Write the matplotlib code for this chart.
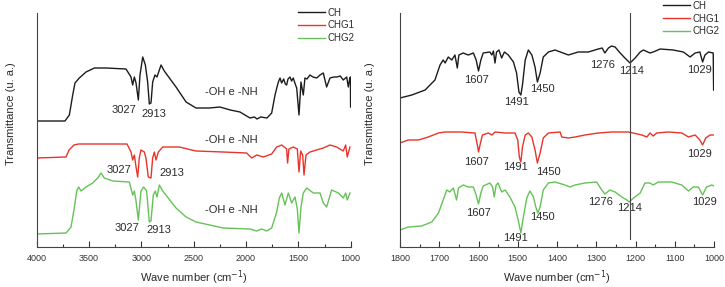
import matplotlib
matplotlib.use("Agg")
import matplotlib.pyplot as plt

plt.rcParams['font.family'] = ['Liberation Sans', 'DejaVu Sans']

# ---- data (wave number, transmittance in arbitrary units) ----
# full range 4000-1000
ch_full_wn = [4000, 3730, 3688, 3656, 3634, 3593, 3529, 3449, 3338, 3147, 3099, 3083, 3067, 3051,
              3029, 3013, 2987, 2962, 2940, 2924, 2908, 2892, 2870, 2851, 2812, 2781, 2669, 2573,
              2478, 2350, 2250, 2150, 2058, 1962, 1920, 1895, 1860, 1800, 1755, 1723, 1704, 1691,
              1675, 1660, 1640, 1625, 1612, 1599, 1580, 1565, 1549, 1530, 1516, 1494, 1475, 1453,
              1437, 1418, 1389, 1360, 1325, 1293, 1262, 1230, 1198, 1160, 1134, 1100, 1071, 1038,
              1023, 1010, 1003, 1001]
ch_full_t = [126, 126, 132, 152, 164, 169, 175, 179, 179, 178, 170, 162, 170, 164,
             147, 172, 190, 182, 165, 143, 144, 165, 172, 170, 182, 176, 160, 145,
             139, 139, 140, 137, 135, 129, 130, 128, 130, 129, 134, 152, 160, 165,
             169, 164, 168, 163, 162, 168, 170, 166, 169, 163, 159, 132, 165, 152,
             169, 168, 172, 170, 169, 172, 174, 160, 169, 170, 170, 171, 167, 170,
             160, 168, 170, 140]

chg1_full_wn = [4000, 3720, 3691, 3644, 3600, 3137, 3099, 3083, 3067, 3051, 3035, 3020, 3004, 2972,
                2956, 2934, 2908, 2892, 2876, 2860, 2838, 2796, 2638, 2478, 2220, 1994, 1946,
                1898, 1835, 1755, 1707, 1659, 1612, 1603, 1590, 1549, 1510, 1494, 1478, 1459,
                1446, 1427, 1389, 1262, 1198, 1134, 1071, 1048, 1033, 1007]
chg1_full_t = [89, 90, 97, 102, 103, 103, 95, 87, 92, 80, 70, 89, 97, 95,
               89, 70, 69, 89, 95, 87, 95, 100, 100, 96, 95, 94, 89,
               92, 90, 93, 100, 102, 98, 84, 98, 100, 98, 75, 96, 92,
               72, 92, 95, 99, 102, 100, 96, 102, 90, 100]

chg2_full_wn = [4000, 3720, 3672, 3641, 3618, 3599, 3577, 3529, 3465, 3417, 3386, 3354, 3274, 3115,
                3083, 3067, 3051, 3029, 3004, 2978, 2950, 2924, 2908, 2886, 2867, 2851, 2828,
                2796, 2669, 2573, 2478, 2217, 1962, 1898, 1850, 1803, 1755, 1707, 1682, 1659,
                1628, 1596, 1564, 1532, 1510, 1494, 1475, 1453, 1420, 1357, 1293, 1262, 1230,
                1182, 1118, 1071, 1048, 1033, 1007]
chg2_full_t = [13, 14, 20, 39, 56, 60, 56, 60, 64, 69, 74, 69, 66, 65,
               52, 56, 46, 27, 56, 60, 56, 25, 26, 52, 56, 50, 62,
               56, 39, 30, 25, 19, 18, 16, 18, 16, 19, 35, 49, 54,
               42, 54, 44, 50, 38, 14, 40, 54, 59, 54, 54, 44, 40,
               57, 54, 49, 54, 47, 54]

# zoom 1800-1000
ch_zoom_wn = [1800, 1770, 1736, 1711, 1698, 1690, 1685, 1677, 1668, 1660, 1654, 1650, 1639, 1626,
              1613, 1606, 1600, 1594, 1588, 1571, 1566, 1562, 1558, 1554, 1548, 1541, 1534,
              1524, 1511, 1503, 1497, 1492, 1488, 1481, 1473, 1464, 1456, 1450, 1443, 1435,
              1422, 1405, 1371, 1346, 1320, 1295, 1285, 1278, 1269, 1261, 1252, 1239, 1227,
              1214, 1201, 1188, 1180, 1163, 1155, 1137, 1104, 1078, 1061, 1048, 1036, 1029,
              1023, 1014, 1002, 1001]
ch_zoom_t = [149, 152, 157, 167, 182, 187, 184, 190, 187, 192, 179, 192, 194, 192,
             194, 187, 176, 187, 194, 195, 192, 196, 184, 195, 197, 189, 195,
             192, 185, 174, 155, 152, 162, 187, 197, 192, 180, 165, 174, 190,
             195, 197, 192, 195, 195, 198, 199, 194, 199, 201, 200, 194, 189,
             184, 189, 195, 197, 194, 195, 198, 197, 195, 190, 194, 195, 185,
             192, 195, 194, 157]

chg1_zoom_wn = [1800, 1779, 1753, 1728, 1702, 1685, 1643, 1609, 1602, 1600, 1595, 1590, 1575, 1566,
                1558, 1532, 1507, 1500, 1496, 1492, 1488, 1481, 1473, 1464, 1456, 1450, 1443,
                1435, 1422, 1392, 1388, 1371, 1354, 1329, 1295, 1261, 1218, 1184, 1171, 1163,
                1155, 1146, 1116, 1082, 1065, 1048, 1036, 1029, 1021, 1010, 1002]
chg1_zoom_t = [104, 107, 107, 110, 114, 115, 115, 114, 100, 95, 104, 112, 114, 112,
               115, 114, 114, 107, 90, 85, 100, 112, 114, 110, 97, 84, 94,
               109, 114, 115, 110, 109, 110, 112, 114, 115, 115, 112, 110, 114,
               111, 114, 115, 114, 110, 112, 107, 102, 109, 112, 112]

chg2_zoom_wn = [1800, 1779, 1745, 1719, 1702, 1690, 1681, 1673, 1664, 1656, 1651, 1639, 1626, 1613,
                1606, 1600, 1594, 1588, 1571, 1564, 1560, 1555, 1550, 1541, 1532, 1520, 1507,
                1499, 1492, 1487, 1477, 1469, 1460, 1454, 1449, 1443, 1435, 1422, 1405, 1380,
                1367, 1354, 1329, 1299, 1286, 1278, 1265, 1252, 1235, 1222, 1216, 1205, 1188,
                1176, 1163, 1155, 1142, 1108, 1082, 1065, 1053, 1040, 1029, 1019, 1006, 1000]
chg2_zoom_t = [17, 20, 21, 25, 34, 47, 57, 55, 59, 47, 59, 62, 60, 60,
               52, 43, 54, 61, 64, 60, 50, 62, 64, 55, 57, 50, 40,
               27, 14, 27, 49, 56, 50, 40, 34, 40, 57, 64, 65, 62,
               60, 62, 64, 65, 57, 53, 57, 55, 50, 47, 45, 49, 54,
               64, 64, 62, 65, 65, 62, 56, 60, 60, 52, 60, 62, 61]

series_names = ['CH', 'CHG1', 'CHG2']
colors = ['#1c1c1c', '#e8342a', '#66c258']

# peak labels: (text, wave number, height)
full_labels = [('3027', 3166, 137), ('2913', 2879, 133), ('-OH e -NH', 2143, 155),
               ('-OH e -NH', 2143, 107), ('3027', 3214, 77), ('2913', 2707, 74),
               ('-OH e -NH', 2143, 37), ('3027', 3137, 19), ('2913', 2831, 17)]
zoom_labels = [('1607', 1604, 167), ('1491', 1502, 145), ('1450', 1436, 158),
               ('1276', 1283, 182), ('1214', 1211, 176), ('1029', 1036, 177),
               ('1607', 1604, 85), ('1491', 1507, 80), ('1450', 1423, 75), ('1029', 1036, 93),
               ('1607', 1599, 34), ('1450', 1436, 30), ('1491', 1507, 9),
               ('1276', 1288, 45), ('1214', 1216, 39), ('1029', 1025, 45)]
marker_wn = 1214

fig = plt.figure(figsize=(7.25, 2.87), dpi=100)
ax1 = fig.add_axes([36.7 / 725, 40 / 287, 314 / 725, 234 / 287])
ax2 = fig.add_axes([400 / 725, 40 / 287, 314 / 725, 234 / 287])

full = [(ch_full_wn, ch_full_t), (chg1_full_wn, chg1_full_t), (chg2_full_wn, chg2_full_t)]
zoom = [(ch_zoom_wn, ch_zoom_t), (chg1_zoom_wn, chg1_zoom_t), (chg2_zoom_wn, chg2_zoom_t)]

for ax, data, labels, xlim, major, minor, leg_xy in [
        (ax1, full, full_labels, (4000, 1000), 500, 250, (0.832, 1.0235)),
        (ax2, zoom, zoom_labels, (1800, 1000), 100, 50, (0.838, 1.053))]:
    for (wn, t), name, c in zip(data, series_names, colors):
        ax.plot(wn, t, color=c, lw=1.0, label=name)
    for txt, x, y in labels:
        ax.text(x, y, txt, ha='center', va='center', fontsize=8, color='#2b2b2b')
    ax.set_xlim(*xlim)
    ax.set_ylim(0, 234)
    ax.set_xticks(range(xlim[1], xlim[0] + 1, major))
    ax.set_xticks(range(xlim[1] + minor, xlim[0], major), minor=True)
    ax.set_yticks([])
    ax.tick_params(axis='x', which='major', direction='in', length=4, width=0.8,
                   labelsize=6.5, pad=5, colors='#333333')
    ax.tick_params(axis='x', which='minor', direction='in', length=2.5, width=0.8, colors='#333333')
    for s in ['top', 'right']:
        ax.spines[s].set_visible(False)
    for s in ['left', 'bottom']:
        ax.spines[s].set_color('#444444')
        ax.spines[s].set_linewidth(0.8)
    ax.set_xlabel('Wave number (cm$^{-1}$)', fontsize=8, color='#2b2b2b', labelpad=4)
    ax.set_ylabel('Transmittance (u. a.)', fontsize=8, color='#2b2b2b')
    leg = ax.legend(loc='upper left', bbox_to_anchor=leg_xy, frameon=False, fontsize=7,
                    handlelength=2.8, handletextpad=0.2, labelspacing=0.3, borderpad=0,
                    borderaxespad=0)
    for t in leg.get_texts():
        t.set_color('#2b2b2b')

ax1.yaxis.set_label_coords(-0.066, 0.568)
ax2.yaxis.set_label_coords(-0.080, 0.568)
ax2.axvline(marker_wn, ymin=8 / 234, ymax=1, color='#444444', lw=0.8)

fig.savefig('out.png', dpi=100)
